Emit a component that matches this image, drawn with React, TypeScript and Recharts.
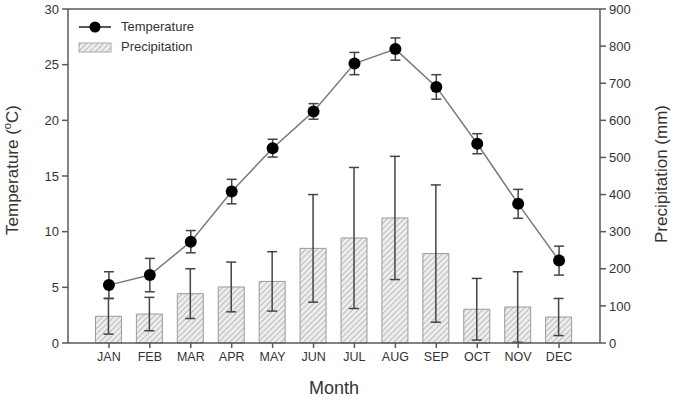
import React from 'react';
import {
  ComposedChart,
  Bar,
  Line,
  XAxis,
  YAxis,
  ErrorBar,
  ReferenceLine,
  Legend,
  Customized
} from 'recharts';

// monthly climate normals
const months = ['JAN', 'FEB', 'MAR', 'APR', 'MAY', 'JUN', 'JUL', 'AUG', 'SEP', 'OCT', 'NOV', 'DEC'];
const temperature = [5.2, 6.1, 9.1, 13.6, 17.5, 20.8, 25.1, 26.4, 23.0, 17.9, 12.5, 7.4];
const temperatureSd = [1.2, 1.5, 1.0, 1.1, 0.8, 0.7, 1.0, 1.0, 1.1, 0.9, 1.3, 1.3];
const precipitation = [72, 78, 133, 151, 166, 255, 283, 337, 241, 91, 97, 70];
const precipitationSd = [48, 45, 67, 67, 80, 145, 190, 166, 185, 83, 95, 50];

const tempTicks = [0, 5, 10, 15, 20, 25, 30];
const precipTicks = [0, 100, 200, 300, 400, 500, 600, 700, 800, 900];

const data = months.map((m, i) => ({
  x: i + 1,
  month: m,
  temperature: temperature[i],
  temperatureSd: temperatureSd[i],
  precipitation: precipitation[i],
  precipitationSd: precipitationSd[i]
}));

const FONT = '"Liberation Sans", Arial, sans-serif';
const AXIS = '#5a5a5a';
const TEXT = '#333';

const Hatch = ({ id }: { id: string }) => (
  <pattern id={id} width="4" height="4" patternUnits="userSpaceOnUse" patternTransform="rotate(45)">
    <rect width="4" height="4" fill="#ededed" />
    <line x1="0" y1="0" x2="0" y2="4" stroke="#9a9a9a" strokeWidth="1.2" />
  </pattern>
);

const LegendBox = () => (
  <div style={{ fontFamily: FONT, fontSize: 13, color: TEXT, lineHeight: '20px' }}>
    <div style={{ display: 'flex', alignItems: 'center' }}>
      <svg width={34} height={14} style={{ marginRight: 9 }}>
        <line x1={1} y1={7} x2={33} y2={7} stroke="#222" strokeWidth={1.5} />
        <circle cx={17} cy={7} r={5.5} fill="#000" />
      </svg>
      Temperature
    </div>
    <div style={{ display: 'flex', alignItems: 'center' }}>
      <svg width={34} height={14} style={{ marginRight: 9 }}>
        <defs>
          <Hatch id="hatchLegend" />
        </defs>
        <rect x={1} y={3} width={32} height={9} fill="url(#hatchLegend)" stroke="#aaa" strokeWidth={1} />
      </svg>
      Precipitation
    </div>
  </div>
);

const Titles = () => (
  <g fontFamily={FONT} fill={TEXT}>
    <defs>
      <Hatch id="hatchBar" />
    </defs>
    <text x={18} y={170} fontSize={17} textAnchor="middle" transform="rotate(-90 18 170)">
      Temperature (<tspan fontSize={11} dy={-7}>o</tspan>
      <tspan dy={7}>C)</tspan>
    </text>
    <text x={667} y={174} fontSize={17} textAnchor="middle" transform="rotate(-90 667 174)">
      Precipitation (mm)
    </text>
    <text x={334} y={394} fontSize={18} textAnchor="middle">
      Month
    </text>
  </g>
);

export default function App() {
  return (
    <div style={{ position: 'absolute', left: 0, top: 0, width: 680, height: 402, background: '#fff' }}>
      <ComposedChart
        width={680}
        height={402}
        data={data}
        margin={{ top: 9, right: 30, bottom: 29, left: 18 }}
      >
        <Customized component={Titles} />
        <XAxis
          dataKey="x"
          type="number"
          domain={[0, 13]}
          ticks={data.map((d) => d.x)}
          tickFormatter={(v: number) => months[v - 1]}
          interval={0}
          height={30}
          stroke={AXIS}
          strokeWidth={1.5}
          tickSize={5}
          tick={{ fontSize: 12.5, fill: TEXT, fontFamily: FONT }}
          tickMargin={4}
        />
        <YAxis
          yAxisId="temp"
          domain={[0, 30]}
          ticks={tempTicks}
          width={50}
          stroke={AXIS}
          strokeWidth={1.5}
          tickSize={6}
          tick={{ fontSize: 13, fill: TEXT, fontFamily: FONT }}
          tickMargin={3}
        />
        <YAxis
          yAxisId="precip"
          orientation="right"
          domain={[0, 900]}
          ticks={precipTicks}
          width={50}
          stroke={AXIS}
          strokeWidth={1.5}
          tickSize={6}
          tick={{ fontSize: 13, fill: TEXT, fontFamily: FONT }}
          tickMargin={3}
        />
        <ReferenceLine yAxisId="temp" y={30} stroke={AXIS} strokeWidth={1.5} />
        <Legend
          layout="vertical"
          align="center"
          verticalAlign="middle"
          content={() => <LegendBox />}
          wrapperStyle={{ left: 78, top: 17, width: 'auto' }}
        />
        <Bar
          yAxisId="precip"
          dataKey="precipitation"
          barSize={26}
          fill="url(#hatchBar)"
          stroke="#9a9a9a"
          strokeWidth={1}
          isAnimationActive={false}
        >
          <ErrorBar dataKey="precipitationSd" width={5} stroke="#444" strokeWidth={1.5} direction="y" />
        </Bar>
        <Line
          yAxisId="temp"
          dataKey="temperature"
          stroke="#7a7a7a"
          strokeWidth={1.5}
          dot={{ r: 6, fill: '#000', stroke: '#000', strokeWidth: 0 }}
          isAnimationActive={false}
        >
          <ErrorBar dataKey="temperatureSd" width={5} stroke="#444" strokeWidth={1.5} direction="y" />
        </Line>
      </ComposedChart>
    </div>
  );
}
